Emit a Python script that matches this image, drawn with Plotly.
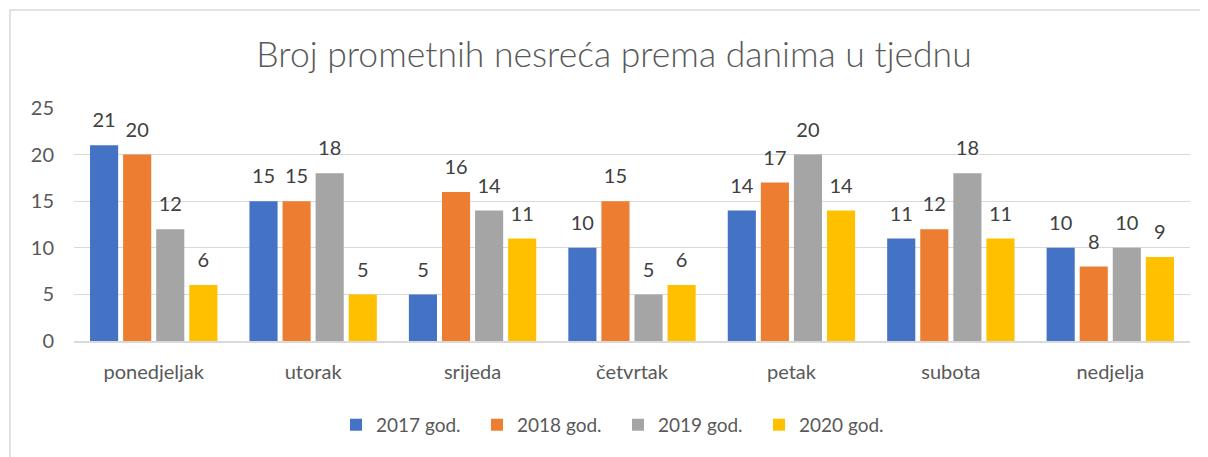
import plotly.graph_objects as go

days = ["ponedjeljak", "utorak", "srijeda", "četvrtak", "petak", "subota", "nedjelja"]
years = ["2017 god.", "2018 god.", "2019 god.", "2020 god."]
y2017 = [21, 15, 5, 10, 14, 11, 10]
y2018 = [20, 15, 16, 15, 17, 12, 8]
y2019 = [12, 18, 14, 5, 20, 18, 10]
y2020 = [6, 5, 11, 6, 14, 11, 9]
y_ticks = [0, 5, 10, 15, 20, 25]

colors = ["#4472C4", "#ED7D31", "#A5A5A5", "#FFC000"]
font_family = "Lato, Open Sans, sans-serif"

# page body has an 8px margin, so the figure is 8px smaller than the window
W, H = 1200, 449
ml, mr, mt, mb = 66, 18, 100, 116

fig = go.Figure()
for i, (name, vals, col) in enumerate(zip(years, [y2017, y2018, y2019, y2020], colors)):
    fig.add_trace(go.Bar(
        x=days, y=vals, name=name,
        marker=dict(color=col, line=dict(width=0)),
        offsetgroup=str(i), alignmentgroup="a",
    ))
    # value labels: invisible markers lift the text a bit above the bar top
    fig.add_trace(go.Scatter(
        x=days, y=vals, mode="markers+text", text=vals,
        textposition="top center", cliponaxis=False,
        marker=dict(size=19, color="rgba(0,0,0,0)"),
        textfont=dict(size=20, color="#404040", family=font_family),
        offsetgroup=str(i), alignmentgroup="a",
        showlegend=False, hoverinfo="skip",
    ))

# outer chart border (runs off the right/bottom edge as in the picture)
pw, ph = W - ml - mr, H - mt - mb
fig.add_shape(type="rect", xref="paper", yref="paper",
              x0=(2 - ml) / pw, x1=(W + 5 - ml) / pw,
              y0=-(mb + 5) / ph, y1=(H - mb - 2) / ph,
              line=dict(color="#D9D9D9", width=1.5), layer="below")

fig.update_layout(
    width=W, height=H,
    margin=dict(l=ml, r=mr, t=mt, b=mb, autoexpand=False),
    paper_bgcolor="white", plot_bgcolor="white",
    barmode="group", bargap=0.17, bargroupgap=0.15,
    scattermode="group", scattergap=0.17,
    title=dict(text="Broj prometnih nesreća prema danima u tjednu",
               x=606 / W, xref="container", xanchor="center",
               y=1 - 47 / H, yanchor="middle", yref="container",
               font=dict(size=35.5, color="#595959", family="Lato, sans-serif", weight=300)),
    font=dict(family=font_family, color="#595959", size=18),
    legend=dict(orientation="h", x=(610 - ml) / pw, xanchor="center", y=-0.36, yanchor="middle",
                font=dict(size=19, color="#595959"), itemwidth=30,
                entrywidth=96, entrywidthmode="pixels",
                traceorder="normal"),
    showlegend=True,
)
fig.update_yaxes(range=[0, 25], tickvals=y_ticks, showgrid=True, gridcolor="#D9D9D9",
                 gridwidth=1, zeroline=False, showline=False, ticks="", automargin=False,
                 ticklabelstandoff=19, tickfont=dict(size=20, color="#595959"))
fig.update_xaxes(showline=True, linecolor="#D9D9D9", linewidth=1.5, ticks="", automargin=False,
                 ticklabelstandoff=12, tickfont=dict(size=20, color="#595959"))

fig.write_html("out.html")
